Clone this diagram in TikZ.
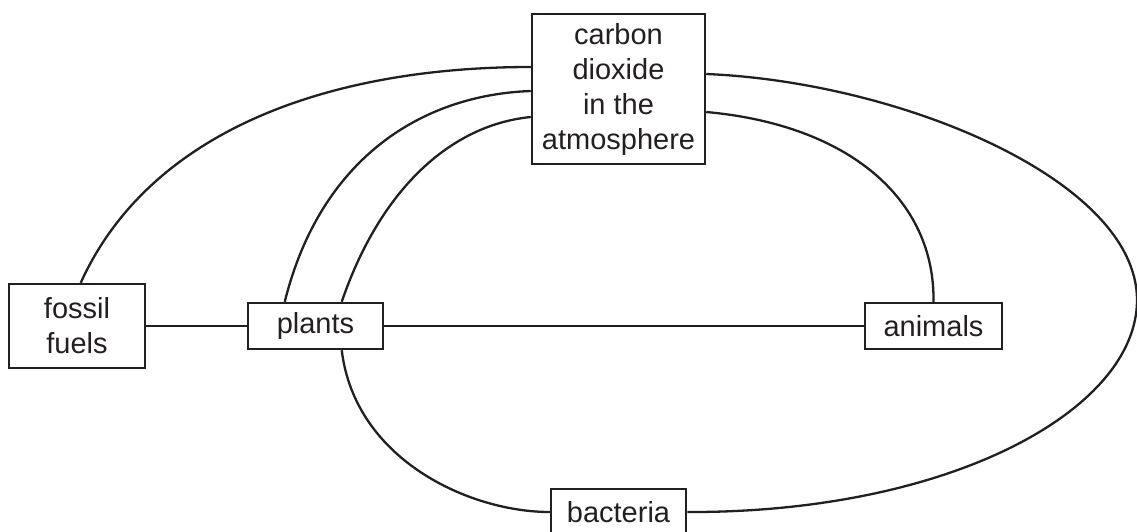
\documentclass[tikz,border=0pt]{standalone}
\usepackage{fontspec}
\setmainfont{Liberation Sans}
\usetikzlibrary{calc}
\definecolor{ink}{HTML}{231F20}
\begin{document}
\begin{tikzpicture}[x=1pt,y=-1pt,
  box/.style={draw=ink,line width=2.5pt,inner sep=0pt,align=center,text=ink,
    font=\fontsize{29}{35}\selectfont},
  link/.style={draw=ink,line width=2.3pt}]
\useasboundingbox (0,0) rectangle (1137,531);
\node[box,minimum width=173,minimum height=150] (co2) at (618.5,89) {carbon\\dioxide\\in the\\atmosphere};
\node[box,minimum width=136,minimum height=84] (fossil) at (77,326) {fossil\\fuels};
\node[box,minimum width=135,minimum height=46] (plants) at (315.5,326) {plants};
\node[box,minimum width=137,minimum height=46] (animals) at (933.5,326) {animals};
\node[box,minimum width=135,minimum height=46] (bacteria) at (618.5,512) {bacteria};
% plain links
\draw[link] (fossil.east) -- (plants.west);
\draw[link] (plants.east) -- (animals.west);
% curved links
\draw[link] ($(fossil.north west)+(73,0)$) .. controls (150,130) and (330,67) .. ($(co2.west)+(0,-22)$);
\draw[link] ($(plants.north west)+(38,0)$) .. controls (320,160) and (420,95) .. ($(co2.west)+(0,2)$);
\draw[link] ($(plants.north west)+(95,0)$) .. controls (380,190) and (450,125) .. ($(co2.west)+(0,28)$);
\draw[link] ($(co2.east)+(0,23)$) .. controls (850,125) and (935,200) .. (animals.north);
\draw[link] ($(plants.south west)+(95,0)$) .. controls (355,460) and (470,512) .. (bacteria.west);
\draw[link] ($(co2.east)+(0,-15)$) .. controls (900,82) and (1137,180) .. (1137,300)
  .. controls (1137,410) and (950,513) .. (bacteria.east);
\end{tikzpicture}
\end{document}
